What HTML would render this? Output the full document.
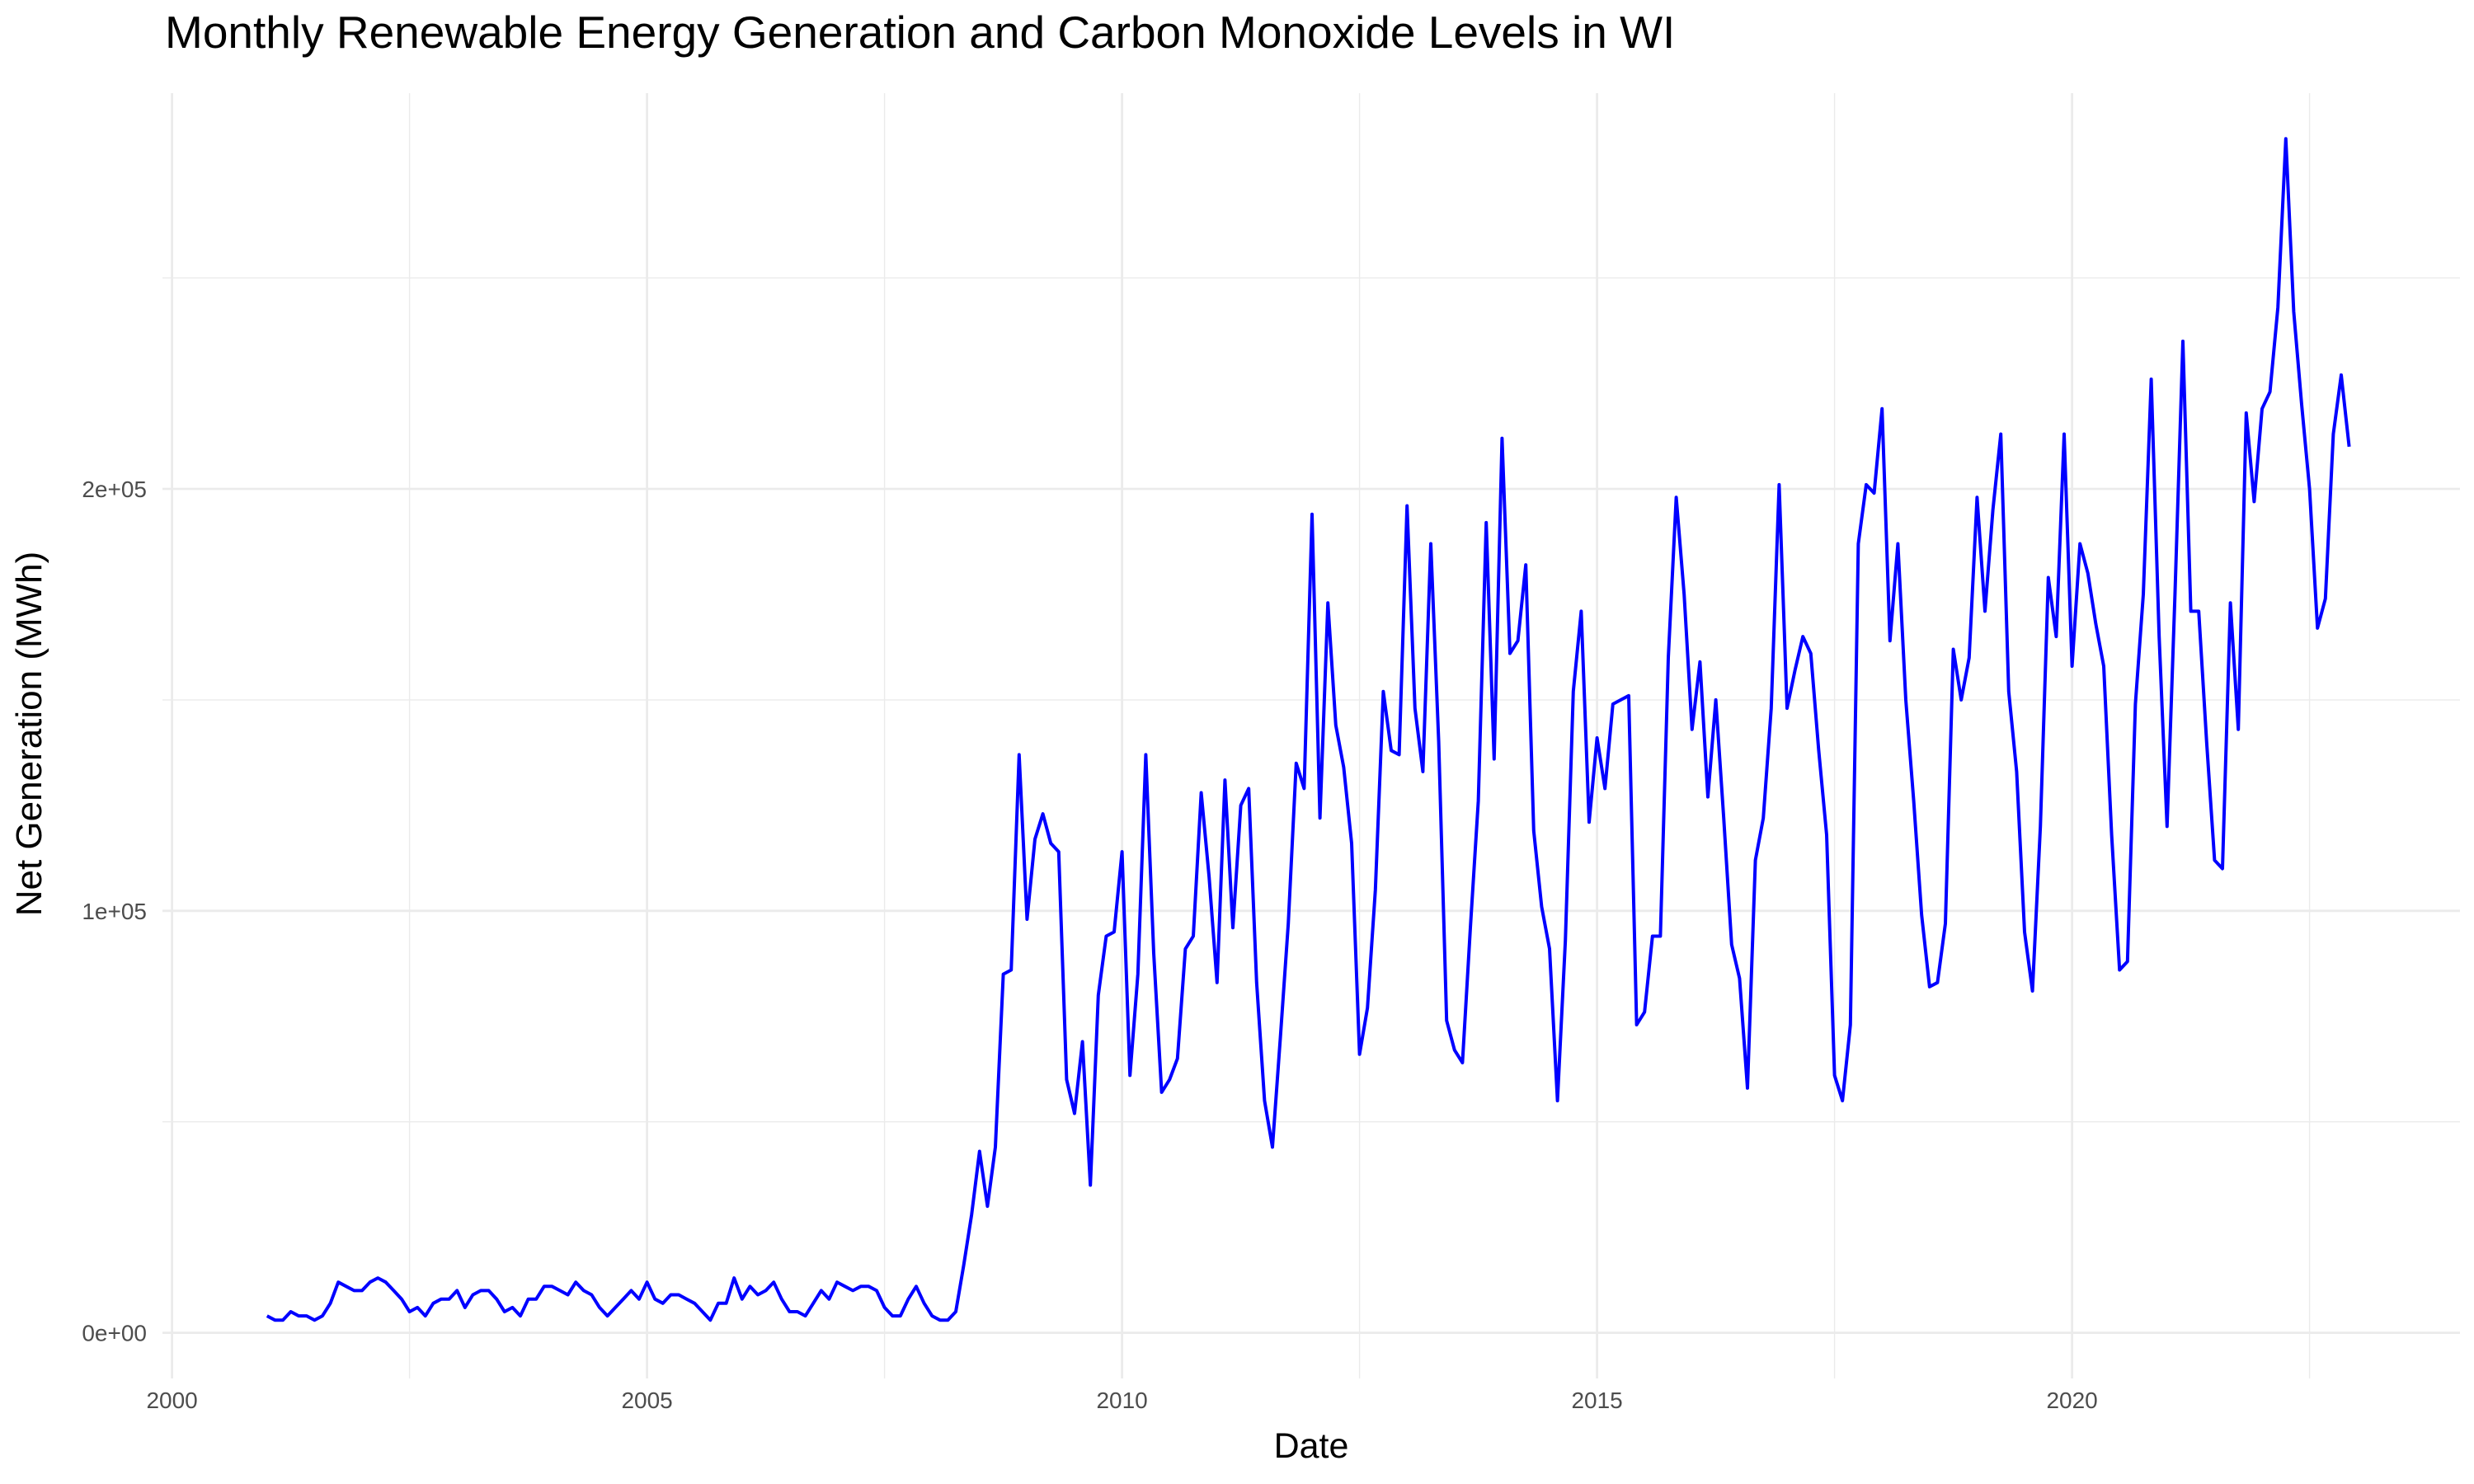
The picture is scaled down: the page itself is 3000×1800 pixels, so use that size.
<!DOCTYPE html>
<html><head><meta charset="utf-8"><style>
html,body{margin:0;padding:0;background:#fff;}
svg{display:block;font-family:"Liberation Sans",sans-serif;}
</style></head><body>
<svg id="chart" width="3000" height="1800">
<rect width="3000" height="1800" fill="#fff"/>
<g id="grid"></g>
<g id="series"></g>
<g id="axes"></g>
<text x="200" y="58" font-size="55" fill="#000">Monthly Renewable Energy Generation and Carbon Monoxide Levels in WI</text>
<text x="1590" y="1768" font-size="43" text-anchor="middle" fill="#000">Date</text>
<text transform="translate(50,890) rotate(-90)" font-size="44" text-anchor="middle" fill="#000">Net Generation (MWh)</text>
</svg>
<script>
const startYear = 2001;
const generationK = [
4,3,3,5,4,4,3,4,7,12,11,10,
10,12,13,12,10,8,5,6,4,7,8,8,
10,6,9,10,10,8,5,6,4,8,8,11,
11,10,9,12,10,9,6,4,6,8,10,8,
12,8,7,9,9,8,7,5,3,7,7,13,
8,11,9,10,12,8,5,5,4,7,10,8,
12,11,10,11,11,10,6,4,4,8,11,7,
4,3,3,5,16,28,43,30,44,85,86,137,
98,117,123,116,114,60,52,69,35,80,94,95,
114,61,85,137,90,57,60,65,91,94,128,108,
83,131,96,125,129,83,55,44,70,97,135,129,
194,122,173,144,134,116,66,77,105,152,138,137,
196,148,133,187,140,74,67,64,96,126,192,136,
212,161,164,182,119,101,91,55,93,152,171,121,
141,129,149,150,151,73,76,94,94,160,198,175,
143,159,127,150,122,92,84,58,112,122,148,201,
148,157,165,161,138,118,61,55,73,187,201,199,
219,164,187,150,126,99,82,83,97,162,150,160,
198,171,195,213,152,133,95,81,120,179,165,213,
158,187,180,168,158,118,86,88,149,175,226,165,
120,175,235,171,171,140,112,110,173,143,218,197,
219,223,243,283,242,220,200,167,174,213,227,210];
const xTicks = [2000,2005,2010,2015,2020];
const xMinor = [2002.5,2007.5,2012.5,2017.5,2022.5];
const yTicks = [0,100000,200000];
const yTickLabels = ["0e+00","1e+05","2e+05"];
const yMinor = [50000,150000,250000];

const NS="http://www.w3.org/2000/svg";
const L=197,R=2983,T=113,B=1672;
function xs(yr){return 208.6+115.2*(yr-2000);}
function ys(v){return 1616.6-0.005118*v;}
function mk(tag,attrs,parent){const e=document.createElementNS(NS,tag);for(const k in attrs)e.setAttribute(k,attrs[k]);parent.appendChild(e);return e;}
const grid=document.getElementById('grid'),axes=document.getElementById('axes'),series=document.getElementById('series');
xMinor.forEach(v=>{const l=mk('line',{x1:xs(v),x2:xs(v),y1:T,y2:B,stroke:'#ebebeb','stroke-width':1.4},grid);

});
yMinor.forEach(v=>{const l=mk('line',{x1:L,x2:R,y1:ys(v),y2:ys(v),stroke:'#ebebeb','stroke-width':1.4},grid);

});
xTicks.forEach(v=>{const l=mk('line',{x1:xs(v),x2:xs(v),y1:T,y2:B,stroke:'#ebebeb','stroke-width':2.8},grid);


const t=mk('text',{x:xs(v),y:1708,'font-size':28,'text-anchor':'middle',fill:'#4d4d4d'},axes);t.textContent=v;

});
yTicks.forEach((v,i)=>{const l=mk('line',{x1:L,x2:R,y1:ys(v),y2:ys(v),stroke:'#ebebeb','stroke-width':2.8},grid);


const t=mk('text',{x:178,y:ys(v)+10,'font-size':28,'text-anchor':'end',fill:'#4d4d4d'},axes);t.textContent=yTickLabels[i];

});
const pts=generationK.map((v,i)=>xs(startYear+i/12).toFixed(1)+','+ys(v*1000).toFixed(1)).join(' ');
const pl=mk('polyline',{points:pts,fill:'none',stroke:'#0000ff','stroke-width':4,'stroke-linejoin':'round'},series);


</script>
</body></html>
